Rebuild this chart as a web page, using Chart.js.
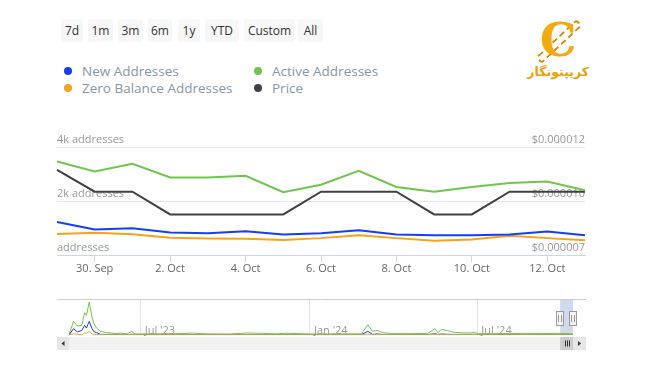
<!DOCTYPE html>
<html>
<head>
<meta charset="utf-8">
<script src="https://cdn.jsdelivr.net/npm/chart.js@4.4.1/dist/chart.umd.min.js"></script>
<style>
  body { margin: 0; width: 650px; height: 365px; background: #fff; position: relative; overflow: hidden; font-family: 'Open Sans', sans-serif; }
  .btn { position: absolute; top: 19px; height: 23px; line-height: 23px; background: #f7f7f7; color: #333; font-size: 12px; text-align: center; border-radius: 2px; }
  .legendItem { position: absolute; font-size: 13.5px; color: #8a96a0; line-height: 18px; white-space: nowrap; }
  .legendItem span { position: absolute; left: -18px; top: 5px; width: 8px; height: 8px; border-radius: 50%; }
  #mainChart { position: absolute; left: 0; top: 130px; }
  #navChart { position: absolute; left: 0; top: 290px; }
  .logoC { position: absolute; left: 540px; top: 17px; font-family: 'DejaVu Serif', serif; font-weight: bold; font-size: 46px; line-height: 46px; color: #f3ab0a; }
  .logoChain { position: absolute; left: 531px; top: 37px; width: 52px; height: 5px; border: 2px dashed #d98a00; border-radius: 3px; transform: rotate(-43deg); }
  .logoText { position: absolute; right: 61px; top: 64px; font-family: 'DejaVu Sans', sans-serif; font-weight: bold; font-size: 12.5px; color: #eea000; direction: rtl; white-space: nowrap; }
</style>
</head>
<body>

<div class="btn" style="left:61px; width:22px;">7d</div>
<div class="btn" style="left:88px; width:25px;">1m</div>
<div class="btn" style="left:118px; width:25px;">3m</div>
<div class="btn" style="left:148px; width:24px;">6m</div>
<div class="btn" style="left:178px; width:22px;">1y</div>
<div class="btn" style="left:205px; width:34px;">YTD</div>
<div class="btn" style="left:244px; width:51px;">Custom</div>
<div class="btn" style="left:298px; width:25px;">All</div>

<div class="legendItem" style="left:82px; top:62px;"><span style="background:#143cff"></span>New Addresses</div>
<div class="legendItem" style="left:272px; top:62px;"><span style="background:#6fc64c"></span>Active Addresses</div>
<div class="legendItem" style="left:82px; top:79px;"><span style="background:#f7a21b"></span>Zero Balance Addresses</div>
<div class="legendItem" style="left:272px; top:79px;"><span style="background:#3d4145"></span>Price</div>

<div class="logoChain"></div>
<div class="logoC">C</div>
<div class="logoText">کریپتونگار</div>

<canvas id="mainChart" width="650" height="149"></canvas>
<canvas id="navChart" width="650" height="65"></canvas>

<script>
// Main chart data (29 Sep - 13 Oct)
const dayLabels = ['29. Sep', '30. Sep', '1. Oct', '2. Oct', '3. Oct', '4. Oct', '5. Oct', '6. Oct',
  '7. Oct', '8. Oct', '9. Oct', '10. Oct', '11. Oct', '12. Oct', '13. Oct'];
const newAddresses = [1220, 945, 990, 835, 810, 880, 760, 805, 915, 760, 735, 735, 760, 870, 735];
const activeAddresses = [3460, 3095, 3375, 2875, 2875, 2935, 2325, 2605, 3120, 2520, 2340, 2520, 2670, 2725, 2395];
const zeroBalanceAddresses = [780, 820, 770, 635, 615, 600, 560, 625, 735, 625, 525, 575, 710, 625, 550];
const price = [0.00001094, 0.00000993, 0.00000993, 0.00000888, 0.00000888, 0.00000888, 0.00000888, 0.00000993,
  0.00000993, 0.00000993, 0.00000888, 0.00000888, 0.00000993, 0.00000993, 0.00000993];
const addressTicks = [0, 2000, 4000];
const priceTicks = [0.000007, 0.0000095, 0.000012];

// Navigator data (days since 14 Apr 2023)
const navDays = [0, 5, 9, 14, 17, 19, 22, 25, 27, 30, 34, 41, 52, 56, 63, 68, 72, 90, 110, 134,
  150, 175, 194, 208, 225, 237, 262, 290, 318, 325, 330, 335, 341, 353, 372, 390, 398, 401, 405, 410,
  415, 419, 433, 442, 445, 459, 480, 495, 515, 533, 548];
const navActive = [600, 27400, 18000, 19300, 44700, 39300, 66000, 36000, 22700, 14000,
  7300, 4700, 2700, 4000, 2000, 7300, 2000, 2400, 2200, 3800,
  2200, 2000, 4000, 3500, 2200, 3500, 2000, 2300, 2200, 20700,
  7300, 9300, 4700, 2700, 2700, 3300, 12700, 4700, 11300, 9300,
  7300, 5000, 4000, 4700, 2700, 2700, 2900, 3300, 3000, 3300, 2400];
const navNew = [0, 12700, 6000, 9300, 19300, 14000, 27300, 12700, 7000, 4700,
  1300, 1200, 1000, 1100, 900, 1500, 900, 900, 850, 1000,
  850, 800, 1000, 900, 800, 900, 800, 800, 800, 7300,
  1300, 2000, 1200, 1000, 1000, 1000, 2500, 1200, 2000, 1600,
  1300, 1200, 1100, 1300, 900, 900, 900, 900, 850, 900, 735];
const navZero = [0, 2700, 1500, 700, 4700, 3000, 7300, 2000, 1500, 1000,
  700, 700, 600, 650, 600, 800, 600, 600, 600, 650,
  600, 600, 650, 600, 600, 600, 600, 600, 600, 1800,
  800, 900, 700, 650, 600, 650, 1200, 700, 1000, 900,
  800, 700, 700, 800, 650, 600, 600, 650, 600, 650, 550];
const navTickDays = [78, 262, 444];
const navTickLabels = ["Jul '23", "Jan '24", "Jul '24"];
const selectedStart = 534;
const selectedEnd = 548;

const blue = '#143cff';
const green = '#6fc64c';
const orange = '#f7a21b';
const dark = '#3d4145';
const labelFont = { family: 'Open Sans', size: 11 };

// Main chart
new Chart(document.querySelector('#mainChart'), {
  type: 'line',
  data: {
    labels: dayLabels,
    datasets: [
      { label: 'New Addresses', data: newAddresses, yAxisID: 'yAddr', borderColor: blue },
      { label: 'Active Addresses', data: activeAddresses, yAxisID: 'yAddr', borderColor: green },
      { label: 'Zero Balance Addresses', data: zeroBalanceAddresses, yAxisID: 'yAddr', borderColor: orange },
      { label: 'Price', data: price, yAxisID: 'yPrice', borderColor: dark }
    ]
  },
  options: {
    responsive: false,
    animation: false,
    layout: { padding: { left: 57, right: 65, top: 17, bottom: 0 } },
    elements: { point: { radius: 0 }, line: { borderWidth: 2, tension: 0 } },
    plugins: { legend: { display: false }, tooltip: { enabled: false } },
    scales: {
      x: {
        grid: {
          drawOnChartArea: false,
          tickLength: 7,
          color: (ctx) => ctx.index % 2 === 1 ? '#ccd6eb' : 'transparent'
        },
        border: { color: '#ccd6eb' },
        afterFit: (scale) => { scale.height = 24; },
        ticks: {
          autoSkip: false, maxRotation: 0, padding: 0, color: '#666', font: labelFont,
          callback: (value, index) => index % 2 === 1 ? dayLabels[index] : ''
        }
      },
      yAddr: {
        position: 'left', min: 0, max: 4000,
        afterBuildTicks: (scale) => { scale.ticks = addressTicks.map(v => ({ value: v })); },
        afterFit: (scale) => { scale.width = 0; },
        grid: { color: '#e6e6e6', drawTicks: false },
        border: { display: false },
        ticks: {
          mirror: true, padding: 0, labelOffset: -7, color: '#999', font: labelFont,
          callback: (v) => v === 0 ? 'addresses' : (v / 1000) + 'k addresses'
        }
      },
      yPrice: {
        position: 'right', min: 0.000007, max: 0.000012,
        afterBuildTicks: (scale) => { scale.ticks = priceTicks.map(v => ({ value: v })); },
        afterFit: (scale) => { scale.width = 0; },
        grid: { display: false, drawTicks: false },
        border: { display: false },
        ticks: {
          mirror: true, padding: 0, labelOffset: -7, color: '#999', font: labelFont,
          callback: (v) => '$0.' + String(Math.round(Math.round(v * 1e7) / 10)).padStart(6, '0')
        }
      }
    }
  }
});

// Navigator mask, handles and scrollbar
const navigatorExtras = {
  id: 'navigatorExtras',
  beforeDatasetsDraw(chart) {
    const { ctx, chartArea, scales } = chart;
    const x0 = scales.x.getPixelForValue(selectedStart);
    const x1 = scales.x.getPixelForValue(selectedEnd);
    ctx.save();
    ctx.fillStyle = 'rgba(102,133,194,0.3)';
    ctx.fillRect(x0, chartArea.top, x1 - x0, chartArea.bottom - chartArea.top);
    ctx.restore();
  },
  afterDraw(chart) {
    const { ctx, chartArea, scales } = chart;
    const x0 = scales.x.getPixelForValue(selectedStart);
    const x1 = scales.x.getPixelForValue(selectedEnd);
    const left = 57, right = 586;
    ctx.save();

    // outline
    ctx.strokeStyle = '#cccccc';
    ctx.lineWidth = 1;
    ctx.beginPath();
    ctx.moveTo(left, chartArea.top + 0.5);
    ctx.lineTo(right, chartArea.top + 0.5);
    ctx.stroke();

    // handles
    [x0, x1].forEach(function (hx) {
      const hxr = Math.round(hx);
      ctx.fillStyle = '#f2f2f2';
      ctx.strokeStyle = '#999999';
      ctx.fillRect(hxr - 3.5, 21.5, 7, 14);
      ctx.strokeRect(hxr - 3.5, 21.5, 7, 14);
      ctx.beginPath();
      ctx.moveTo(hxr - 1.5, 25); ctx.lineTo(hxr - 1.5, 32);
      ctx.moveTo(hxr + 1.5, 25); ctx.lineTo(hxr + 1.5, 32);
      ctx.stroke();
    });

    // scrollbar
    const sy = 47, sh = 13;
    ctx.fillStyle = '#f2f2f2';
    ctx.fillRect(left, sy, right - left, sh);
    ctx.fillStyle = '#e6e6e6';
    ctx.fillRect(left, sy, 12, sh);
    ctx.fillRect(right - 13, sy, 13, sh);
    ctx.fillStyle = '#333';
    ctx.beginPath();
    ctx.moveTo(left + 4.5, sy + 6.5); ctx.lineTo(left + 7.5, sy + 4); ctx.lineTo(left + 7.5, sy + 9); ctx.closePath();
    ctx.fill();
    ctx.beginPath();
    ctx.moveTo(right - 5, sy + 6.5); ctx.lineTo(right - 8, sy + 4); ctx.lineTo(right - 8, sy + 9); ctx.closePath();
    ctx.fill();
    ctx.fillStyle = '#cccccc';
    ctx.fillRect(x0, sy, x1 - x0, sh);
    ctx.strokeStyle = '#333';
    const cx = Math.round((x0 + x1) / 2) + 0.5;
    ctx.beginPath();
    [-2, 0, 2].forEach(function (d) {
      ctx.moveTo(cx + d, sy + 3.5); ctx.lineTo(cx + d, sy + 9.5);
    });
    ctx.stroke();
    ctx.restore();
  }
};

const toPoints = (values) => navDays.map((d, i) => ({ x: d, y: values[i] }));

new Chart(document.querySelector('#navChart'), {
  type: 'line',
  data: {
    datasets: [
      { data: toPoints(navZero), borderColor: orange },
      { data: toPoints(navNew), borderColor: blue },
      { data: toPoints(navActive), borderColor: green }
    ]
  },
  options: {
    responsive: false,
    animation: false,
    layout: { padding: { left: 69, right: 77, top: 9, bottom: 20 } },
    elements: { point: { radius: 0 }, line: { borderWidth: 1, tension: 0 } },
    plugins: { legend: { display: false }, tooltip: { enabled: false } },
    scales: {
      x: {
        type: 'linear', min: 0, max: 548,
        afterBuildTicks: (scale) => { scale.ticks = navTickDays.map(v => ({ value: v })); },
        afterFit: (scale) => { scale.height = 0; },
        grid: { color: '#e6e6e6', drawTicks: false },
        border: { display: false },
        ticks: {
          mirror: true, align: 'start', labelOffset: 4, padding: -2, color: '#999', font: labelFont,
          callback: (v) => navTickLabels[navTickDays.indexOf(v)]
        }
      },
      y: { display: false, min: 0, max: 72000 }
    }
  },
  plugins: [navigatorExtras]
});
</script>
</body>
</html>
